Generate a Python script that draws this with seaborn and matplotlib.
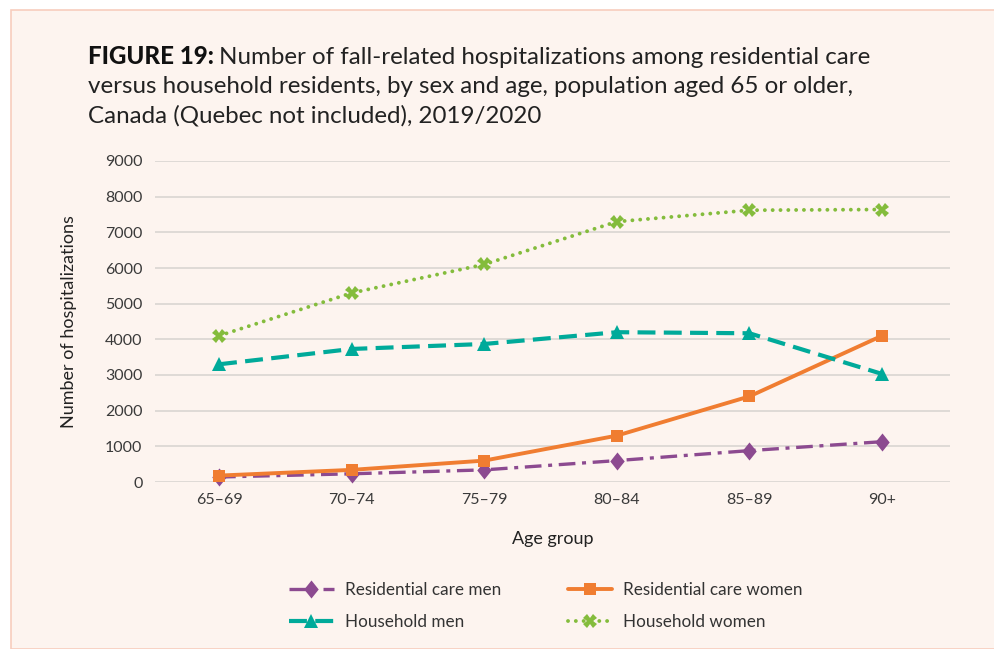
import matplotlib
matplotlib.use("Agg")
import matplotlib.pyplot as plt
import seaborn as sns
import pandas as pd
from matplotlib.patches import Rectangle
from matplotlib.lines import Line2D

age_groups = ["65–69", "70–74", "75–79", "80–84", "85–89", "90+"]
res_men = [140, 230, 340, 600, 880, 1130]
res_women = [180, 340, 600, 1300, 2400, 4100]
hh_men = [3300, 3730, 3870, 4200, 4170, 3030]
hh_women = [4100, 5300, 6100, 7300, 7620, 7640]
y_ticks = [0, 1000, 2000, 3000, 4000, 5000, 6000, 7000, 8000, 9000]

series_names = ["Residential care men", "Residential care women", "Household men", "Household women"]
series_values = [res_men, res_women, hh_men, hh_women]
colors = ["#8C4A90", "#F07D31", "#00AA9A", "#84BC3C"]
diamond = [(0, 1), (0.8, 0), (0, -1), (-0.8, 0), (0, 1)]
markers = [diamond, "s", "^", "X"]
dashes = [(5, 2, 1.2, 2), "", (4.3, 2), (0.01, 2.0)]
lw = [2.4, 2.8, 3.0, 2.8]
msz = [13, 8.8, 10.5, 9.5]

sns.set_theme(style="white")
plt.rcParams["font.family"] = ["Lato", "DejaVu Sans"]

bg = "#FDF4EF"
fig = plt.figure(figsize=(9.95, 6.49), dpi=100, facecolor="white")
fig.patches.append(Rectangle((11 / 995, 0), 1, 1 - 10 / 649, transform=fig.transFigure,
                             facecolor=bg, edgecolor="#F7CDBD", linewidth=1.2, zorder=-5))

ax = fig.add_axes([155 / 995, 1 - 482 / 649, (950 - 155) / 995, (482 - 161) / 649])
ax.set_zorder(2)
ax.patch.set_alpha(0)

frames = []
for name, vals in zip(series_names, series_values):
    frames.append(pd.DataFrame({"age": age_groups, "value": vals, "series": name}))
df = pd.concat(frames, ignore_index=True)


def style_kw(i):
    kw = dict(color=colors[i], marker=markers[i], markersize=msz[i], markeredgewidth=0,
              linewidth=lw[i])
    if dashes[i] == "":
        kw["linestyle"] = "-"
    else:
        kw["linestyle"] = (0, dashes[i])
    if i == 3:
        kw["dash_capstyle"] = "round"
    return kw


for i, name in enumerate(series_names):
    sub = df[df["series"] == name]
    sns.lineplot(data=sub, x="age", y="value", ax=ax, clip_on=False, zorder=3 + i,
                 legend=False, **style_kw(i))

ax.set_ylim(0, 9000)
ax.set_xlim(-0.483, 5.513)
ax.set_yticks(y_ticks)
ax.set_yticklabels([str(v) for v in y_ticks])
ax.grid(axis="y", color="#DAD5D1", linewidth=1.2)
ax.grid(axis="x", visible=False)
for s in ax.spines.values():
    s.set_visible(False)
ax.tick_params(axis="both", length=0, labelsize=11.5, colors="#3A3A3A")
ax.tick_params(axis="y", pad=9)
ax.tick_params(axis="x", pad=8)
ax.set_xlabel("Age group", fontsize=13, color="#222222", labelpad=17)
ax.set_ylabel("Number of hospitalizations", fontsize=13, color="#222222", labelpad=20)

# Title
fs_title = 17.4
t1 = fig.text(88 / 995, 1 - 64 / 649, "FIGURE 19:", fontsize=fs_title, fontweight="black",
              color="#111111", va="baseline", ha="left")
fig.canvas.draw()
bb = t1.get_window_extent(renderer=fig.canvas.get_renderer())
fig.text((bb.x1 + 5) / 995, 1 - 64 / 649,
         "Number of fall-related hospitalizations among residential care",
         fontsize=fs_title, color="#222222", va="baseline", ha="left")
fig.text(88 / 995, 1 - 93 / 649,
         "versus household residents, by sex and age, population aged 65 or older,",
         fontsize=fs_title, color="#222222", va="baseline", ha="left")
fig.text(88 / 995, 1 - 122 / 649,
         "Canada (Quebec not included), 2019/2020",
         fontsize=fs_title, color="#222222", va="baseline", ha="left")

# Legend
handles = []
for i, name in enumerate(series_names):
    handles.append(Line2D([0], [0], label=name, **style_kw(i)))
order = [0, 2, 1, 3]
leg = fig.legend([handles[k] for k in order], [series_names[k] for k in order],
                 loc="center", bbox_to_anchor=(546 / 995, 1 - 606 / 649), ncol=2,
                 frameon=False, fontsize=12.3, handlelength=2.6, columnspacing=3.9,
                 labelspacing=0.95, handletextpad=0.65)
for t in leg.get_texts():
    t.set_color("#333333")

fig.savefig("out.png", dpi=100, facecolor=fig.get_facecolor())
